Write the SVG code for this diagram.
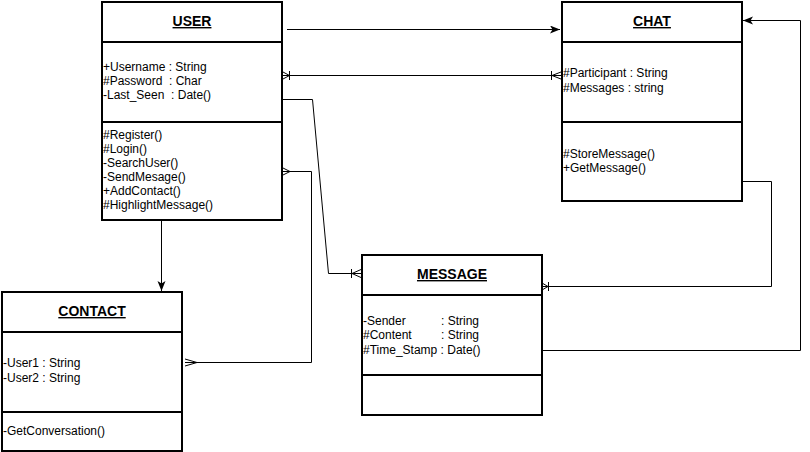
<svg xmlns="http://www.w3.org/2000/svg" width="810" height="452" viewBox="0 0 810 452">
<style>
.box{fill:#fff;stroke:#000;stroke-width:2}
.div{stroke:#000;stroke-width:2}
.t{font-family:"Liberation Sans",Arial,sans-serif;font-size:12px;fill:#000;white-space:pre}
.h{font-family:"Liberation Sans",Arial,sans-serif;font-size:14px;font-weight:bold;text-decoration:underline;fill:#000;text-anchor:middle}
.c{fill:none;stroke:#000;stroke-width:1}
</style>
<defs>
<marker id="arr" markerUnits="userSpaceOnUse" markerWidth="12" markerHeight="10" refX="10" refY="4" orient="auto">
<path d="M0,0 L10,4 L0,8 L2.5,4 z" fill="#000"/>
</marker>
</defs>
<rect width="810" height="452" fill="#fff"/>
<g id="connectors">
<line class="c" x1="287" y1="29.5" x2="560" y2="29.5" marker-end="url(#arr)"/>
<line class="c" x1="283" y1="75.5" x2="561" y2="75.5"/>
<path class="c" d="M283,72 L289.5,75.5 L283,79 M289.5,71 V80"/>
<path class="c" d="M561,72 L552,75.5 L561,79 M551.5,71 V80"/>
<polyline class="c" points="283,99.5 312.5,99.5 328.5,273.5 361,273.5"/>
<path class="c" d="M361,269.5 L352,273.5 L361,277.5 M351.5,269 V278"/>
<polyline class="c" points="283,171.5 311.5,171.5 311.5,362.5 185,362.5"/>
<path class="c" d="M283,168 L290,171.5 L283,175"/>
<path class="c" d="M185,359 L197,362.5 L185,366"/>
<line class="c" x1="161.5" y1="221" x2="161.5" y2="291" marker-end="url(#arr)"/>
<polyline class="c" points="742,181.5 771.5,181.5 771.5,286.5 542,286.5"/>
<path class="c" d="M542,283 L548,286.5 L542,290 M548.5,282 V291"/>
<polyline class="c" points="542,350.5 800.5,350.5 800.5,20.5 743,20.5" marker-end="url(#arr)"/>
</g>
<g id="user">
<rect class="box" x="102" y="2" width="180" height="218"/>
<line class="div" x1="102" y1="42" x2="282" y2="42"/>
<line class="div" x1="102" y1="122" x2="282" y2="122"/>
<text class="h" x="192" y="26">USER</text>
<text class="t" x="103" y="71" xml:space="preserve">+Username : String</text>
<text class="t" x="103" y="85" xml:space="preserve">#Password  : Char</text>
<text class="t" x="103" y="99" xml:space="preserve">-Last_Seen  : Date()</text>
<text class="t" x="103" y="139">#Register()</text>
<text class="t" x="103" y="153">#Login()</text>
<text class="t" x="103" y="167">-SearchUser()</text>
<text class="t" x="103" y="181">-SendMesage()</text>
<text class="t" x="103" y="195">+AddContact()</text>
<text class="t" x="103" y="209">#HighlightMessage()</text>
</g>
<g id="chat">
<rect class="box" x="562" y="2" width="180" height="199"/>
<line class="div" x1="562" y1="42" x2="742" y2="42"/>
<line class="div" x1="562" y1="122" x2="742" y2="122"/>
<text class="h" x="652" y="26">CHAT</text>
<text class="t" x="563" y="77">#Participant : String</text>
<text class="t" x="563" y="92">#Messages : string</text>
<text class="t" x="563" y="158">#StoreMessage()</text>
<text class="t" x="563" y="172">+GetMessage()</text>
</g>
<g id="contact">
<rect class="box" x="2" y="292" width="180" height="159"/>
<line class="div" x1="2" y1="332" x2="182" y2="332"/>
<line class="div" x1="2" y1="412" x2="182" y2="412"/>
<text class="h" x="92" y="316">CONTACT</text>
<text class="t" x="3" y="367">-User1 : String</text>
<text class="t" x="3" y="382">-User2 : String</text>
<text class="t" x="3" y="435">-GetConversation()</text>
</g>
<g id="message">
<rect class="box" x="362" y="255" width="180" height="160"/>
<line class="div" x1="362" y1="295" x2="542" y2="295"/>
<line class="div" x1="362" y1="375" x2="542" y2="375"/>
<text class="h" x="452" y="279">MESSAGE</text>
<text class="t" x="363" y="325">-Sender<tspan x="441">: String</tspan></text>
<text class="t" x="363" y="339">#Content<tspan x="441">: String</tspan></text>
<text class="t" x="363" y="354">#Time_Stamp : Date()</text>
</g>
</svg>
